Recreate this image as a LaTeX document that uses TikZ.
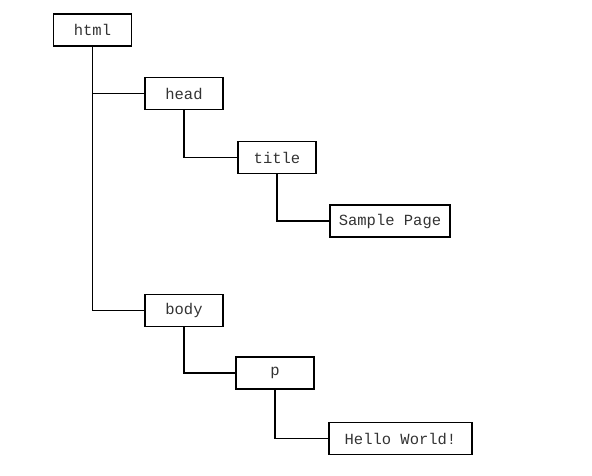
\documentclass[tikz,border=0pt]{standalone}
\usepackage{fontspec}
\setmonofont{Liberation Mono}
\usepackage{tikz}
\usetikzlibrary{arrows.meta}

\begin{document}
\begin{tikzpicture}[x=1pt,y=-1pt]
\useasboundingbox (0,0) rectangle (592,475);
\begin{scope}[every node/.style={rectangle,draw,line width=1.3pt,minimum width=78pt,
              minimum height=32pt,font=\ttfamily\fontsize{15.5}{18}\selectfont,text=black!80}]
    \node (html)  at (92.5,30)  {html};
    \node (head)  at (184,93.5) {head};
    \node (title) at (277,157.5) {title};
    \node[minimum width=120pt] (sample) at (390,221) {Sample Page};
    \node (body)  at (184,310.5) {body};
    \node (p)     at (275,373)  {p};
    \node[minimum width=143pt] (hello) at (400.5,438.5) {Hello World!};
\end{scope}

\begin{scope}[every edge/.style={draw=black,line width=1.3pt,to path={|- (\tikztotarget)}}]
    \path (html) edge (head);
    \path (html) edge (body);
    \path (head) edge (title);
    \path (title) edge (sample);
    \path (body) edge (p);
    \path (p) edge (hello);
\end{scope}
\end{tikzpicture}
\end{document}
